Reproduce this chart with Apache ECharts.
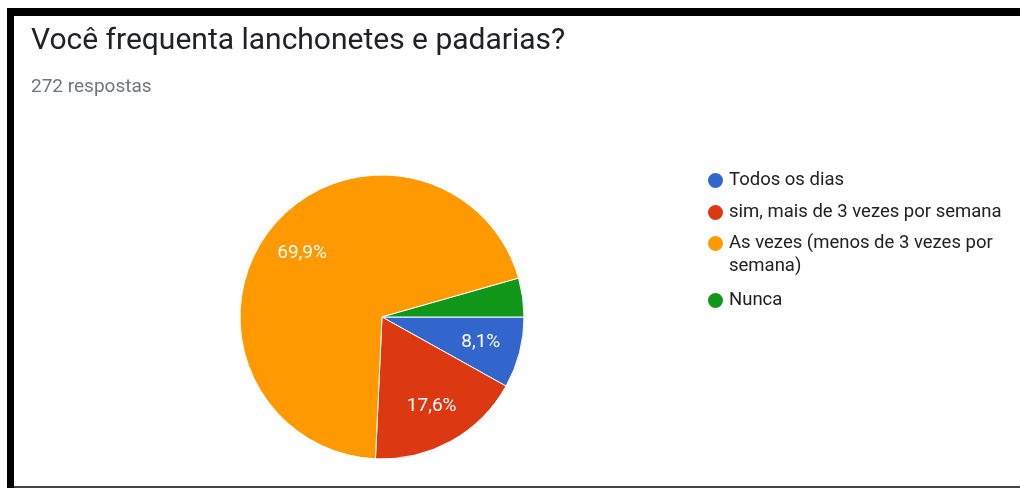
<!DOCTYPE html>
<html>
<head>
<meta charset="utf-8">
<script src="https://cdn.jsdelivr.net/npm/echarts@6/dist/echarts.min.js"></script>
<style>
  html, body { margin: 0; padding: 0; background: #fff; }
  #chart { position: absolute; left: 0; top: 0; width: 1020px; height: 488px; }
  .edge { position: absolute; background: #000; pointer-events: none; }
</style>
</head>
<body>
<div id="chart"></div>
<div class="edge" style="left:7px; top:8px; width:1013px; height:8px;"></div>
<div class="edge" style="left:7px; top:8px; width:7px; height:480px;"></div>
<div class="edge" style="left:14px; top:486px; width:1006px; height:2px; background:#444;"></div>
<script>
// survey answers (272 respostas)
const questionTitle = 'Você frequenta lanchonetes e padarias?';
const responsesText = '272 respostas';
const answers = [
  'Todos os dias',
  'sim, mais de 3 vezes por semana',
  'As vezes (menos de 3 vezes por semana)',
  'Nunca'
];
const counts = [22, 48, 190, 12];
const colors = ['#3366cc', '#dc3912', '#ff9900', '#109618'];

const total = counts.reduce((a, b) => a + b, 0);
const pieData = answers.map((name, i) => ({ name: name, value: counts[i] }));

function pctLabel(params) {
  const p = params.value / total * 100;
  // google hides labels on thin slices
  if (p < 5) return '';
  return p.toFixed(1).replace('.', ',') + '%';
}

function legendName(name) {
  // long answer wraps after "por"
  if (name === answers[2]) return '\nAs vezes (menos de 3 vezes por\nsemana)';
  return name;
}

const legendBase = {
  orient: 'vertical',
  left: 701,
  icon: 'circle',
  itemWidth: 17,
  itemHeight: 17,
  itemGap: 9,
  formatter: legendName,
  selectedMode: false,
  textStyle: { fontFamily: 'Roboto', fontSize: 18.5, color: '#212121', lineHeight: 23 }
};

const chart = echarts.init(document.getElementById('chart'));
chart.setOption({
  color: colors,
  animation: false,
  title: {
    text: questionTitle,
    subtext: responsesText,
    left: 26,
    top: 21,
    itemGap: 22,
    textStyle: { fontFamily: 'Roboto', fontSize: 30, fontWeight: 'normal', color: '#202124' },
    subtextStyle: { fontFamily: 'Roboto', fontSize: 19, color: '#70757a' }
  },
  legend: [
    Object.assign({}, legendBase, { top: 164, data: answers.slice(0, 2) }),
    Object.assign({}, legendBase, { top: 204, data: [answers[2]] }),
    Object.assign({}, legendBase, { top: 284, data: [answers[3]] })
  ],
  series: [
    {
      type: 'pie',
      center: [382, 317],
      radius: 142,
      startAngle: 0,
      clockwise: true,
      label: { show: false },
      labelLine: { show: false },
      itemStyle: { borderColor: '#fff', borderWidth: 1 },
      emphasis: { disabled: true },
      data: pieData
    },
    {
      // transparent ring only used to put the % labels further out
      type: 'pie',
      center: [382, 317],
      radius: [56, 142],
      startAngle: 0,
      clockwise: true,
      silent: true,
      itemStyle: { color: 'rgba(0,0,0,0)', borderWidth: 0 },
      label: {
        show: true,
        position: 'inside',
        formatter: pctLabel,
        color: '#fff',
        fontFamily: 'Roboto',
        fontSize: 19
      },
      labelLine: { show: false },
      emphasis: { disabled: true },
      data: pieData
    }
  ]
});
</script>
</body>
</html>
